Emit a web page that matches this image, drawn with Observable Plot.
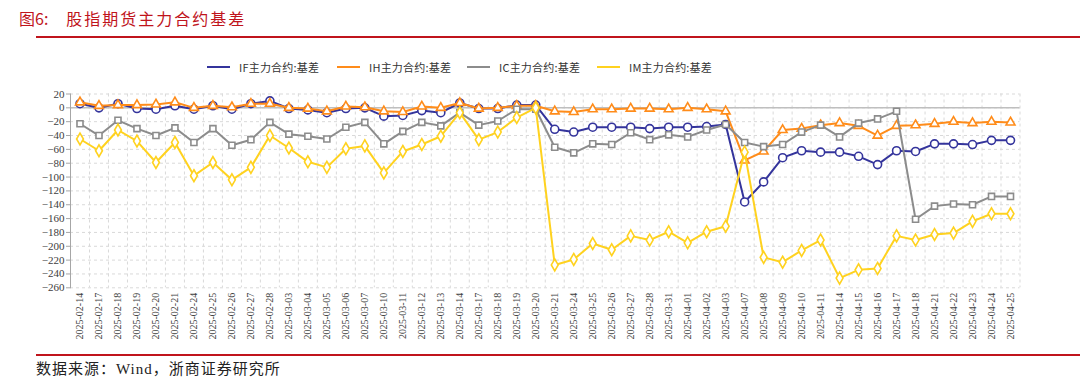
<!DOCTYPE html>
<html><head><meta charset="utf-8">
<script src="https://cdn.jsdelivr.net/npm/d3@7"></script>
<script src="https://cdn.jsdelivr.net/npm/@observablehq/plot@0.6"></script>
<style>
body{margin:0;background:#fff;width:1080px;height:392px;position:relative;overflow:hidden;font-family:"Liberation Serif","Noto Sans CJK SC",serif;}
#title{position:absolute;left:19px;top:7px;font-size:16px;color:#C0141C;font-family:"Noto Sans CJK SC",sans-serif;white-space:nowrap;line-height:22px;}
#title .t2{margin-left:18px;letter-spacing:2px;}
#tline{position:absolute;left:36px;top:36px;width:1044px;height:2px;background:#C0141C;}
#legend{position:absolute;top:58px;left:0;width:1080px;height:18px;}
.item{position:absolute;top:0;height:18px;display:flex;align-items:center;font-family:"Noto Sans CJK SC",sans-serif;font-size:11px;color:#333;letter-spacing:0.2px;}
.item .sw{width:23px;height:2px;margin-right:9px;}
#chart{position:absolute;left:0;top:80px;}
#bline{position:absolute;left:36px;top:354px;width:1044px;height:2px;background:#C0141C;}
#source{position:absolute;left:36px;top:357px;font-size:15px;color:#222;font-family:"Liberation Serif","Noto Sans CJK SC",serif;white-space:nowrap;letter-spacing:1px;}
</style>
</head><body>
<div id="title">图6:<span class="t2">股指期货主力合约基差</span></div>
<div id="tline"></div>
<div id="legend"></div>
<div id="chart"></div>
<div id="bline"></div>
<div id="source">数据来源：Wind，浙商证券研究所</div>
<script>
const dates = ["2025-02-14","2025-02-17","2025-02-18","2025-02-19","2025-02-20","2025-02-21","2025-02-24","2025-02-25","2025-02-26","2025-02-27","2025-02-28","2025-03-03","2025-03-04","2025-03-05","2025-03-06","2025-03-07","2025-03-10","2025-03-11","2025-03-12","2025-03-13","2025-03-14","2025-03-17","2025-03-18","2025-03-19","2025-03-20","2025-03-21","2025-03-24","2025-03-25","2025-03-26","2025-03-27","2025-03-28","2025-03-31","2025-04-01","2025-04-02","2025-04-03","2025-04-07","2025-04-08","2025-04-09","2025-04-10","2025-04-11","2025-04-14","2025-04-15","2025-04-16","2025-04-17","2025-04-18","2025-04-21","2025-04-22","2025-04-23","2025-04-24","2025-04-25"];

const seriesNames = ["IF主力合约:基差","IH主力合约:基差","IC主力合约:基差","IM主力合约:基差"];
const seriesColors = ["#34349C","#FF8C1A","#8C8C8C","#FFD21F"];
const seriesSymbols = ["circle","triangle","square","diamond"];
const seriesRadius = [4, 3.3, 3.4, 3.6];

const ifBasis = [6,0,6,-1,-2,3,-2,3,-2,6,10,-1,-3,-7,-1,0,-12,
  -11,-4,-7,7,-1,-1,4,4,-31,-35,-28,-28,-28,-30,-28,-28,-27,
  -24,-136,-107,-72,-62,-64,-64,-70,-82,-62,-63,-52,-52,-53,-47,-47];
const ihBasis = [8,3,4,4,5,8,0,3,1,6,6,0,-1,-5,2,1,-5,
  -6,2,0,7,-1,0,3,3,-5,-6,-2,-2,-1,-1,-2,0,-2,
  -5,-76,-63,-32,-30,-25,-22,-26,-40,-26,-25,-23,-20,-22,-20,-21];
const icBasis = [-23,-40,-18,-30,-40,-29,-50,-30,-54,-46,-21,-38,-41,-45,-28,-21,-52,
  -34,-21,-26,-7,-25,-19,-2,-2,-57,-65,-52,-53,-36,-46,-39,-42,-32,
  -24,-50,-56,-53,-35,-25,-42,-22,-16,-5,-161,-142,-139,-140,-128,-128];
const imBasis = [-45,-62,-32,-48,-79,-50,-98,-79,-104,-86,-40,-58,-78,-86,-59,-55,-94,
  -63,-53,-41,-7,-46,-35,-14,0,-227,-219,-196,-205,-185,-191,-179,-195,-179,
  -171,-64,-216,-223,-206,-191,-246,-234,-232,-185,-191,-183,-181,-164,-153,-153];

const yTicks = d3.range(-260, 21, 20);
const allSeries = [ifBasis, ihBasis, icBasis, imBasis];

// legend
const legend = document.getElementById("legend");
const legendLeft = [207, 337, 467, 597];
seriesNames.forEach((name, k) => {
  const it = document.createElement("div");
  it.className = "item";
  it.style.left = legendLeft[k] + "px";
  it.innerHTML = `<span class="sw" style="background:${seriesColors[k]}"></span><span>${name}</span>`;
  legend.appendChild(it);
});

const marks = [
  Plot.gridY({ticks: yTicks, stroke: "#d9d9d9", strokeOpacity: 1, strokeDasharray: "3,3"}),
  Plot.gridX({ticks: d3.range(dates.length + 1).map(i => i - 0.5), stroke: "#d9d9d9", strokeOpacity: 1, strokeDasharray: "3,3"}),
  Plot.ruleY([0], {stroke: "#bfbfbf", strokeWidth: 1.5}),
  Plot.frame({anchor: "left", stroke: "#a6a6a6"}),
  Plot.axisY({ticks: yTicks, label: null, tickSize: 4, tickPadding: 2, stroke: "#a6a6a6", fontSize: 11, fontFamily: "Liberation Serif", fill: "#404040"}),
  Plot.axisX({ticks: d3.range(dates.length), label: null, tickFormat: i => dates[i], tickRotate: -90, tickSize: 0, tickPadding: 5, fontSize: 10, fontFamily: "Liberation Serif", fill: "#404040"})
];
allSeries.forEach((vals, k) => {
  const data = vals.map((v, i) => ({i, v}));
  marks.push(Plot.line(data, {x: "i", y: "v", stroke: seriesColors[k], strokeWidth: 2}));
  marks.push(Plot.dot(data, {x: "i", y: "v", symbol: () => seriesSymbols[k], r: seriesRadius[k], stroke: seriesColors[k], strokeWidth: 1.6, fill: "white"}));
});

const chart = Plot.plot({
  width: 1080,
  height: 270,
  marginLeft: 70,
  marginRight: 60.5,
  marginTop: 13.5,
  marginBottom: 62.7,
  x: {type: "linear", domain: [-0.5, dates.length - 0.5], axis: null},
  y: {domain: [-260, 20], axis: null},
  symbol: {type: "identity"},
  style: {background: "white", overflow: "visible"},
  marks
});
document.getElementById("chart").appendChild(chart);
</script>
</body></html>
